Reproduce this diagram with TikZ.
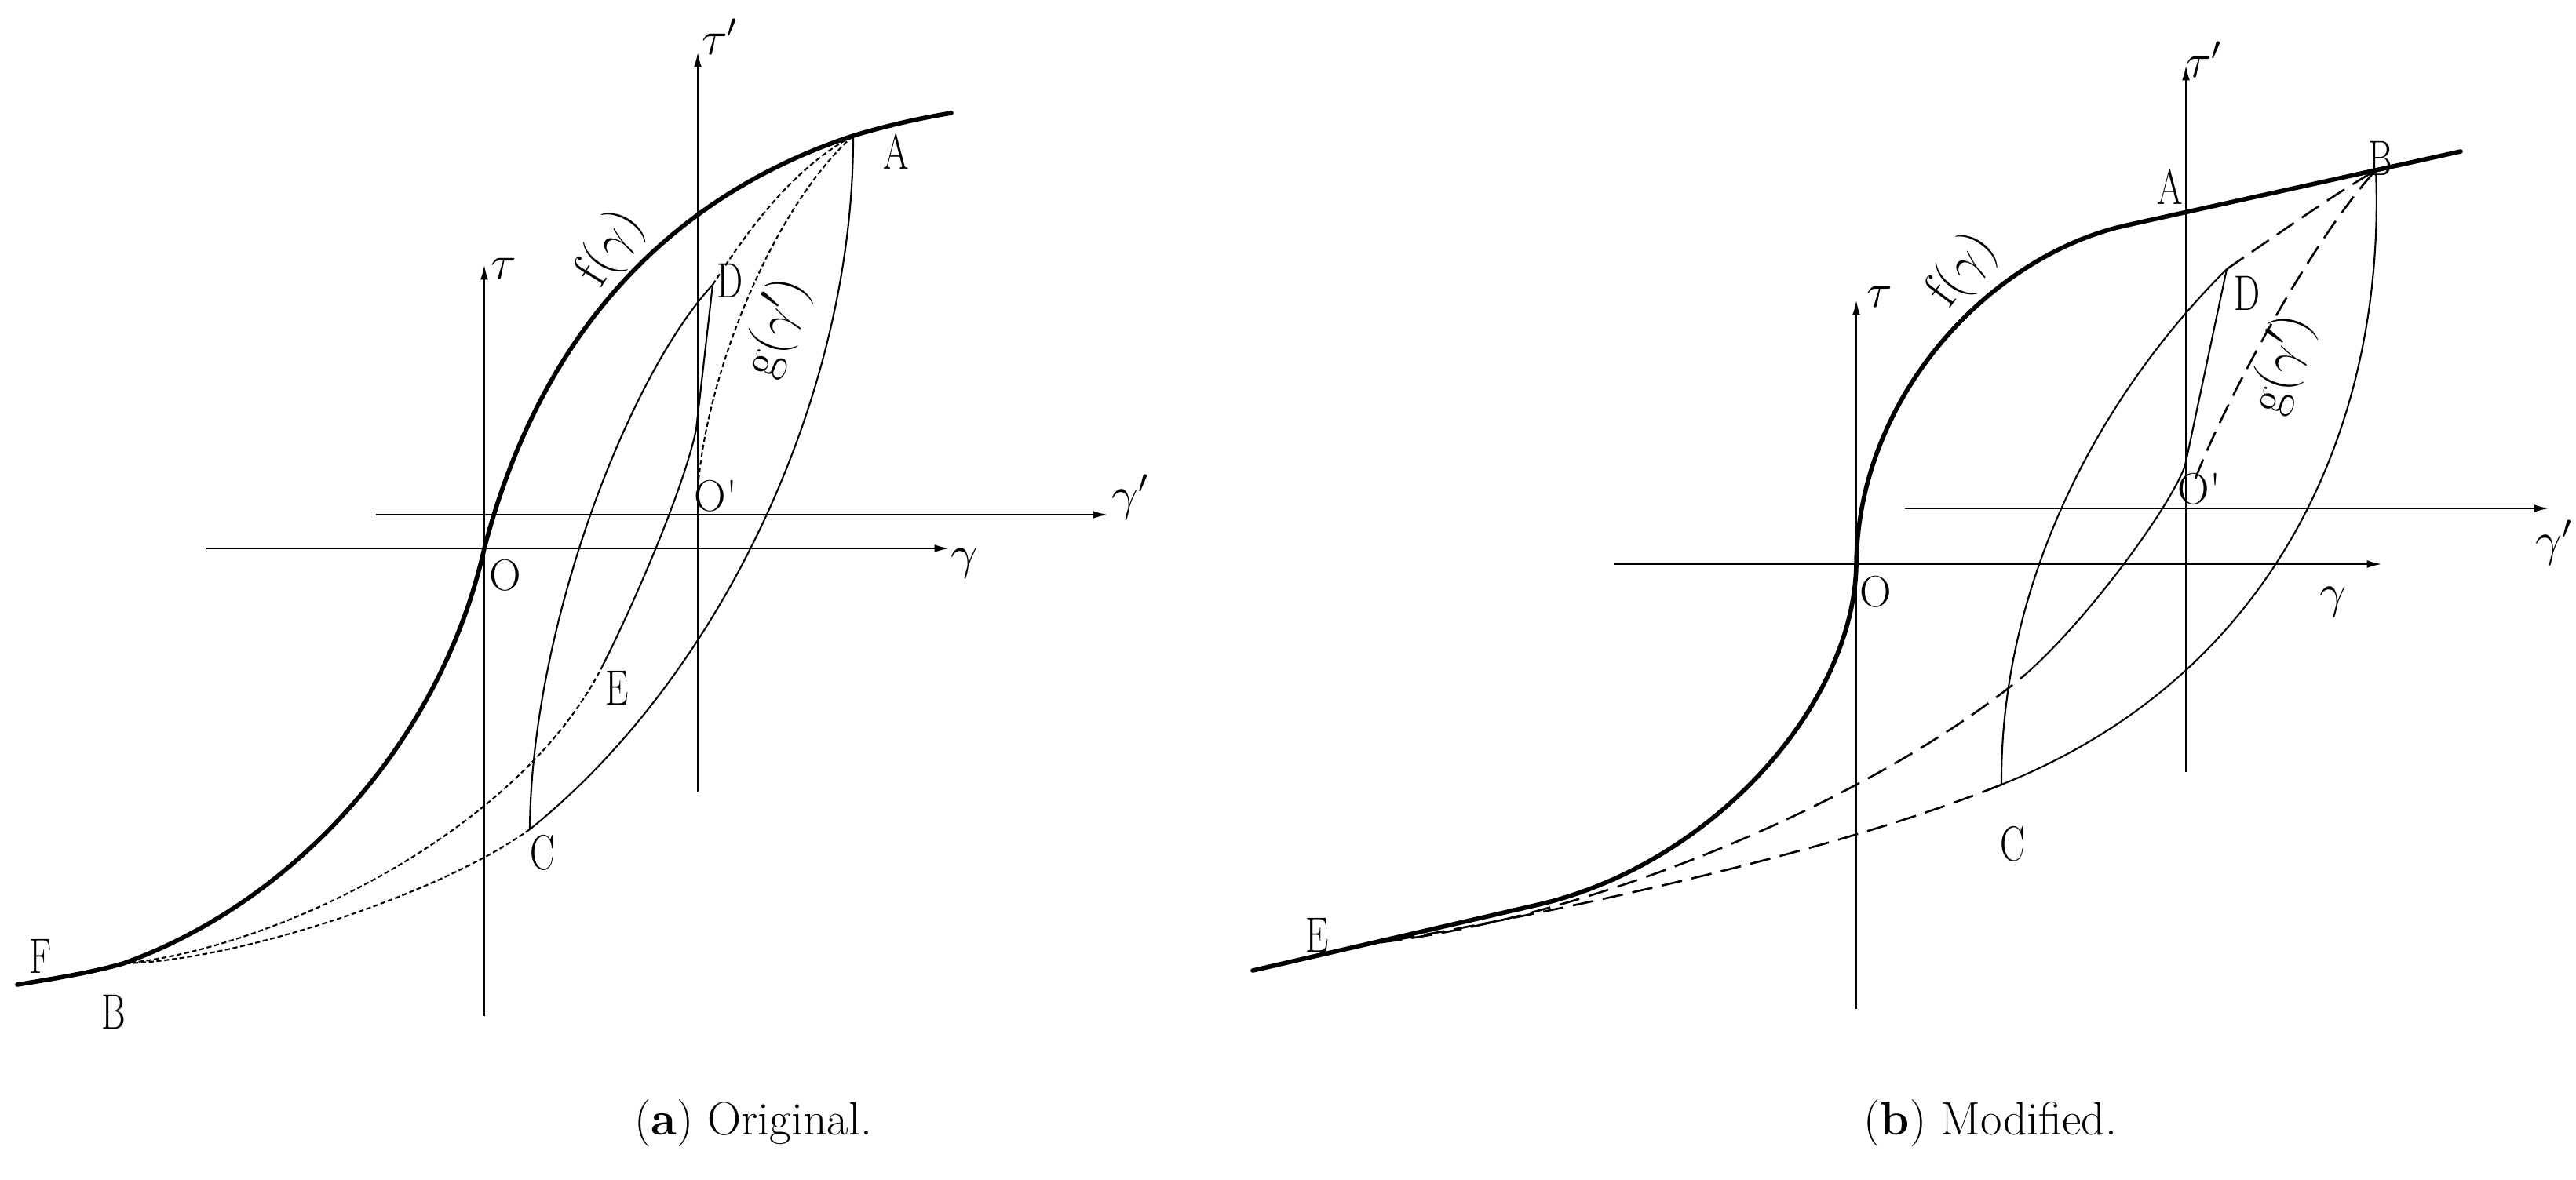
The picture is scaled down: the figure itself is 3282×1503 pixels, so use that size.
\documentclass[tikz,border=0pt]{standalone}
\usetikzlibrary{arrows.meta}
\newcommand\cnd[1]{\scalebox{0.74}[1]{#1}}
\begin{document}
\begin{tikzpicture}[x=0.01cm,y=-0.01cm,
  ax/.style={line width=0.75pt,-{Latex[length=5.5pt,width=2.8pt]}},
  fcurve/.style={line width=1.6pt,line cap=round},
  thinc/.style={line width=0.6pt},
  dsa/.style={line width=0.6pt,dash pattern=on 1.8pt off 1pt},
  dsb/.style={line width=0.75pt,dash pattern=on 7.5pt off 3.5pt},
  lbl/.style={font=\fontsize{18}{18}\selectfont,inner sep=0pt},
  olbl/.style={font=\fontsize{16}{16}\selectfont,inner sep=0pt},
  fnl/.style={font=\fontsize{19}{19}\selectfont,inner sep=0pt},
  captxt/.style={font=\fontsize{17}{21}\selectfont,inner sep=0pt}]
\useasboundingbox (0,0) rectangle (3282,1503);

% ================= panel (a) =================
\coordinate (Fa) at (22,1255);
\coordinate (Oa) at (617,699);
\coordinate (Opa) at (889,656);
\coordinate (Aa) at (1087,173);
\coordinate (Ba) at (157,1228);
\coordinate (Ca) at (675,1057);
\coordinate (Da) at (908,363);
\coordinate (Ea) at (767,850);
\coordinate (Pa) at (887,547);
\coordinate (Ga) at (890,612);
\coordinate (Ra) at (1212,144);
\coordinate (tauAs) at (617,1295);
\coordinate (tauAe) at (617,337);
\coordinate (gamAs) at (263,699);
\coordinate (gamAe) at (1210,699);
\coordinate (gpAs) at (479,656);
\coordinate (gpAe) at (1412,656);
\coordinate (tpAs) at (889,1009);
\coordinate (tpAe) at (889,66);

\draw[ax] (tauAs) -- (tauAe);
\draw[ax] (gamAs) -- (gamAe);
\draw[ax] (gpAs) -- (gpAe);
\draw[ax] (tpAs) -- (tpAe);

% f(gamma)
\draw[fcurve] (Fa) .. controls (70,1247) and (115,1240) .. (Ba)
  .. controls (375,1150) and (562,945) .. (Oa)
  .. controls (690,420) and (857,249) .. (Aa)
  .. controls (1130,160) and (1170,151) .. (Ra);
% A -> C (solid)
\draw[thinc] (Aa) .. controls (1088,500) and (920,860) .. (Ca);
% C -> B (dashed)
\draw[dsa] (Ca) .. controls (560,1140) and (300,1225) .. (Ba);
% B -> E (dashed)
\draw[dsa] (Ba) .. controls (350,1210) and (660,1060) .. (Ea);
% E -> D (solid)
\draw[thinc] (Ea) .. controls (810,765) and (872,620) .. (Pa) -- (Da);
% C -> D (solid)
\draw[thinc] (Ca) .. controls (677,800) and (800,480) .. (Da);
% D -> A (dashed)
\draw[dsa] (Da) .. controls (955,290) and (1010,215) .. (Aa);
% g(gamma') (dashed)
\draw[dsa] (Ga) .. controls (905,460) and (990,260) .. (Aa);

\node[lbl] (ltauA) at (642,342) {$\tau$};
\node[lbl] (ltpA) at (917,47) {$\tau'$};
\node[lbl] (lgamA) at (1229,718) {$\gamma$};
\node[lbl] (lgpA) at (1440,634) {$\gamma'$};
\node[olbl] (lOa) at (644,733) {O};
\node[olbl] (lOpa) at (912,632) {O\textquotesingle};
\node[lbl] (lAa) at (1142,193) {\cnd{A}};
\node[lbl] (lBa) at (145,1290) {\cnd{B}};
\node[lbl] (lCa) at (691,1087) {\cnd{C}};
\node[lbl] (lDa) at (930,358) {\cnd{D}};
\node[lbl] (lEa) at (786,877) {\cnd{E}};
\node[lbl] (lFa) at (52,1219) {\cnd{F}};
\node[fnl,rotate=58] (lfa) at (778,317) {f($\gamma$)};
\node[fnl,rotate=70] (lga) at (990,418) {g($\gamma'$)};

\node[captxt] (capa) at (960,1432) {(\textbf{a}) Original.};

% ================= panel (b) =================
\coordinate (Lb) at (1596,1237);
\coordinate (Mb) at (1960,1153);
\coordinate (Ob) at (2365,719);
\coordinate (Nb) at (2710,287);
\coordinate (Rb) at (3135,193);
\coordinate (Opb) at (2785,648);
\coordinate (Bb) at (3027,217);
\coordinate (Cb) at (2550,1000);
\coordinate (Db) at (2837,343);
\coordinate (Eb) at (1760,1201);
\coordinate (Pb) at (2580,860);
\coordinate (Qb) at (2784,593);
\coordinate (Gb) at (2797,610);
\coordinate (tauBs) at (2365,1286);
\coordinate (tauBe) at (2365,382);
\coordinate (gamBs) at (2056,719);
\coordinate (gamBe) at (3035,719);
\coordinate (gpBs) at (2427,648);
\coordinate (gpBe) at (3248,648);
\coordinate (tpBs) at (2785,984);
\coordinate (tpBe) at (2785,83);

\draw[ax] (tauBs) -- (tauBe);
\draw[ax] (gamBs) -- (gamBe);
\draw[ax] (gpBs) -- (gpBe);
\draw[ax] (tpBs) -- (tpBe);

% f(gamma)
\draw[fcurve] (Lb) -- (Mb) .. controls (2180,1102) and (2362,900) .. (Ob)
  .. controls (2368,500) and (2540,324) .. (Nb) -- (Rb);
% B -> C (solid)
\draw[thinc] (Bb) .. controls (3040,540) and (2900,860) .. (Cb);
% C -> E (dashed)
\draw[dsb] (Cb) .. controls (2340,1085) and (2000,1160) .. (Eb);
% E -> P (dashed)
\draw[dsb] (Eb) .. controls (2050,1165) and (2400,1010) .. (Pb);
% P -> D (solid)
\draw[thinc] (Pb) .. controls (2660,790) and (2766,645) .. (Qb) -- (Db);
% C -> D (solid)
\draw[thinc] (Cb) .. controls (2548,760) and (2660,520) .. (Db);
% D -> B (dashed)
\draw[dsb] (Db) .. controls (2900,300) and (2970,250) .. (Bb);
% g(gamma') (dashed)
\draw[dsb] (Gb) .. controls (2840,500) and (2950,300) .. (Bb);

\node[lbl] (ltauB) at (2395,378) {$\tau$};
\node[lbl] (ltpB) at (2808,76) {$\tau'$};
\node[lbl] (lgamB) at (2973,767) {$\gamma$};
\node[lbl] (lgpB) at (3254,692) {$\gamma'$};
\node[olbl] (lOb) at (2390,754) {O};
\node[olbl] (lOpb) at (2802,623) {O\textquotesingle};
\node[lbl] (lAb) at (2765,238) {\cnd{A}};
\node[lbl] (lBb) at (3033,202) {\cnd{B}};
\node[lbl] (lCb) at (2564,1076) {\cnd{C}};
\node[lbl] (lDb) at (2863,374) {\cnd{D}};
\node[lbl] (lEb) at (1678,1192) {\cnd{E}};
\node[fnl,rotate=53] (lfb) at (2500,345) {f($\gamma$)};
\node[fnl,rotate=72] (lgb) at (2908,465) {g($\gamma'$)};

\node[captxt] (capb) at (2536,1432) {(\textbf{b}) Modified.};
\end{tikzpicture}
\end{document}
